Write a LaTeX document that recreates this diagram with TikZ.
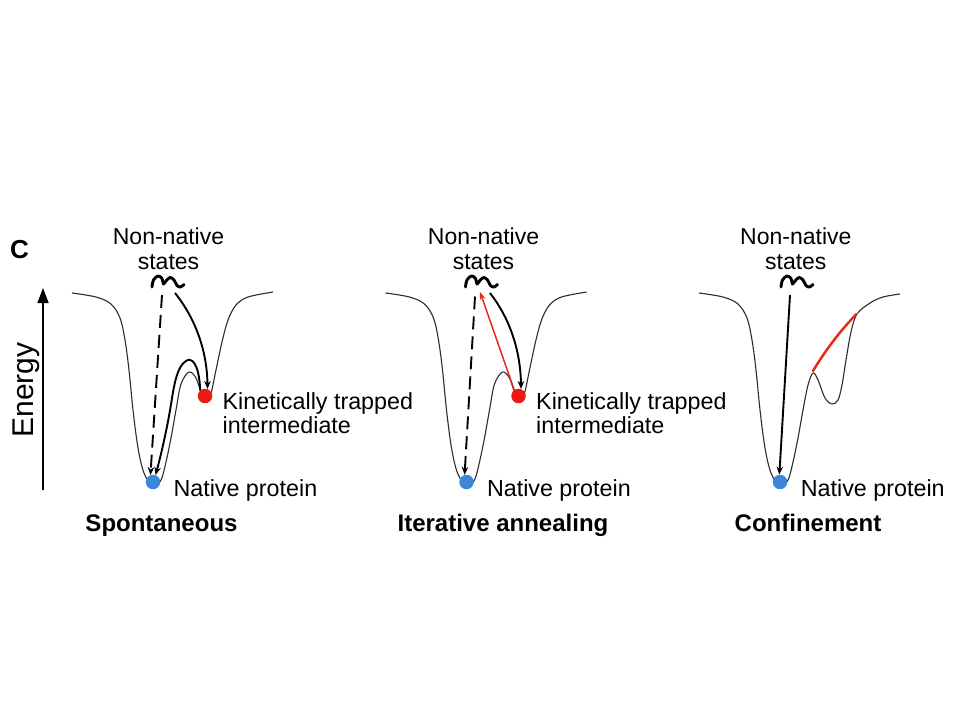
\documentclass[tikz,border=0pt]{standalone}
\usepackage{fontspec}
\setmainfont{Liberation Sans}
\usetikzlibrary{arrows.meta}
\definecolor{bluedot}{RGB}{60,135,220}
\definecolor{reddot}{RGB}{235,25,20}
\definecolor{redline}{RGB}{230,40,30}
\definecolor{yelline}{RGB}{250,210,60}
\definecolor{landgray}{RGB}{45,45,45}
\tikzset{
  land/.style={draw=landgray, line width=1.1pt, line join=round},
  lbl/.style={font=\fontsize{23.3}{24.5}\selectfont, inner sep=0pt, anchor=base west},
  nn/.style={font=\fontsize{23}{25.5}\selectfont, inner sep=0pt, anchor=base},
  ttl/.style={font=\bfseries\fontsize{24}{26}\selectfont, inner sep=0pt, anchor=base},
  dotb/.style={circle, fill=bluedot, minimum size=14.5pt, inner sep=0pt},
  dotr/.style={circle, fill=reddot, minimum size=14.5pt, inner sep=0pt},
  squig/.style={line width=2.9pt, line cap=round, line join=round},
  arr/.style={line width=1.9pt, -{Stealth[length=8pt,width=6.5pt]}},
  darr/.style={arr, dash pattern=on 13pt off 7pt},
  rarr/.style={draw=redline, line width=1.5pt, -{Stealth[length=8pt,width=6pt]}},
}
\newcommand{\landAB}{%
  \draw[land] plot[smooth, tension=0.55] coordinates {(72,293) (96,297) (111,304) (120,318) (125,340) (129,370) (133,410) (138,448) (144,473) (153,486) (161,480) (166,462) (171,438) (176,410) (181,384) (189,372) (196,378) (201,392) (206,399) (211,393) (216,370) (222,342) (228,320) (236,305) (248,297) (273,292)};}
\newcommand{\squigglemark}{%
  \draw[squig] plot[smooth, tension=0.6] coordinates {(152,287) (153.5,280) (158,276) (162,278.5) (163.5,284) (166,281) (170,277.5) (174,280) (177,285.5) (180.5,287) (184,284.5)};}
\begin{document}
\begin{tikzpicture}[x=1pt, y=-1pt]
\useasboundingbox[fill=white] (0,0) rectangle (960,720);

% panel label and energy axis
\node[font=\bfseries\fontsize{26}{28}\selectfont, inner sep=0pt, anchor=base west] (lblC) at (10,258) {C};
\coordinate (ea) at (43,490);
\coordinate (et) at (43,288);
\draw[line width=1.5pt, -{Triangle[length=15pt,width=11pt]}] (ea) -- (et);
\node[font=\fontsize{30}{32}\selectfont, inner sep=0pt, anchor=base, rotate=90] (energy) at (33,390) {Energy};

% ---------- Panel 1: Spontaneous ----------
\begin{scope}
  \landAB
  \squigglemark
  \node[nn] (nn1) at (168.5,244) {\begin{tabular}[t]{@{}c@{}}Non-native\\states\end{tabular}};
  \node[dotb] (b1) at (153,482) {};
  \node[dotr] (r1) at (205,396) {};
  \coordinate (s1a) at (162,295);
  \coordinate (s1b) at (175,293);
  \coordinate (p1) at (186,361);
  \draw[darr] (s1a) -- (b1.110);
  \draw[arr] (s1b) .. controls (195,318) and (207,350) .. (r1.70);
  \draw[arr] (r1.130) .. controls (199,362) and (191,357) .. (p1) .. controls (178,366) and (175,380) .. (172,398) .. controls (168,425) and (161,455) .. (b1.70);
  \node[lbl] (k1) at (222.5,409) {\begin{tabular}[t]{@{}l@{}}Kinetically trapped\\intermediate\end{tabular}};
  \node[lbl] (np1) at (173.3,496) {Native protein};
  \node[ttl] (t1) at (161.5,531) {Spontaneous};
\end{scope}

% ---------- Panel 2: Iterative annealing ----------
\begin{scope}[xshift=313.5pt]
  \landAB
  \squigglemark
  \node[nn] (nn2) at (170,244) {\begin{tabular}[t]{@{}c@{}}Non-native\\states\end{tabular}};
  \node[dotb] (b2) at (153,482) {};
  \node[dotr] (r2) at (205,396) {};
  \coordinate (s2a) at (161.5,296.5);
  \coordinate (s2b) at (176.5,293);
  \coordinate (s2c) at (166.5,292);
  \draw[darr] (s2a) -- (b2.105);
  \draw[arr] (s2b) .. controls (196,318) and (207,350) .. (r2.70);
  \draw[rarr] (r2.125) -- (s2c);
  \node[lbl] (k2) at (222.5,409) {\begin{tabular}[t]{@{}l@{}}Kinetically trapped\\intermediate\end{tabular}};
  \node[lbl] (np2) at (173.3,496) {Native protein};
  \node[ttl] (t2) at (189.5,531) {Iterative annealing};
\end{scope}

% ---------- Panel 3: Confinement ----------
\begin{scope}[xshift=627pt]
  \draw[land] plot[smooth, tension=0.55] coordinates {(72,293) (96,297) (111,304) (120,318) (125,340) (129,370) (133,410) (138,448) (144,473) (153,486) (161,480) (166,462) (171,438) (176,410) (181,385) (186,373) (191,380) (198,398) (205,404) (211,400) (215,385) (219,360) (224,332) (230,314) (243,303) (256,297) (273,294)};
  \draw[squig] plot[smooth, tension=0.6] coordinates {(154,287) (155.5,280) (160,276) (164,278.5) (165.5,284) (168,281) (172,277.5) (176,280) (179,285.5) (182.5,287) (186,284.5)};
  \node[nn] (nn3) at (168.8,244) {\begin{tabular}[t]{@{}c@{}}Non-native\\states\end{tabular}};
  \node[dotb] (b3) at (153,482) {};
  \coordinate (s3a) at (163,295);
  \coordinate (c3a) at (186,371);
  \coordinate (c3b) at (229.5,314);
  \draw[arr] (s3a) -- (b3.95);
  \draw[draw=yelline, line width=1.2pt, line cap=round] ([xshift=0.8pt,yshift=0.8pt]c3a) .. controls (200,350) and (214,331) .. ([xshift=0.8pt,yshift=0.8pt]c3b);
  \draw[draw=redline, line width=2.4pt, line cap=round] (c3a) .. controls (198.5,350) and (213,331) .. (c3b);
  \node[lbl] (np3) at (173.7,496) {Native protein};
  \node[ttl] (t3) at (181,531) {Confinement};
\end{scope}
\end{tikzpicture}
\end{document}
